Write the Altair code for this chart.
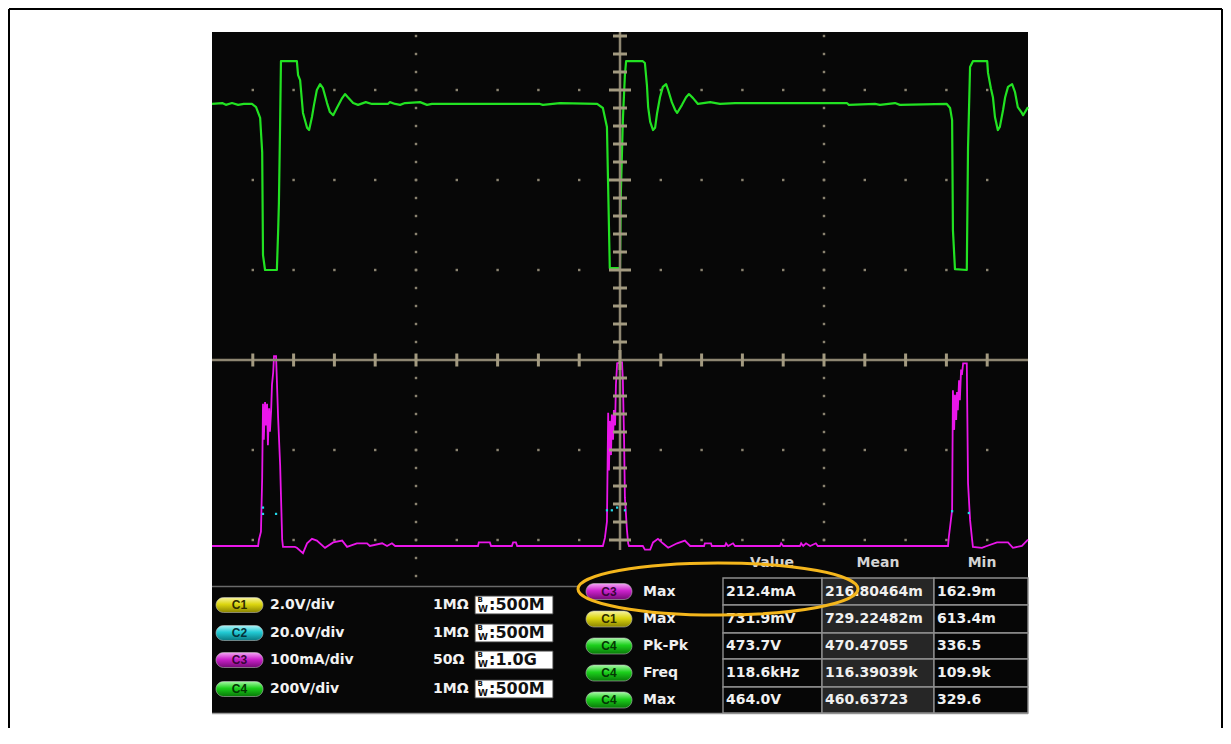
import altair as alt
import pandas as pd

# ---------------- data ----------------
# C4 (green, 200 V/div): (time in µs, volts)
c4_trace = [(-10.00, 369), (-9.75, 371), (-9.66, 367), (-9.51, 371), (-9.36, 367), (-9.22, 369),
            (-9.02, 369), (-8.92, 362), (-8.82, 338), (-8.77, 262), (-8.75, 33), (-8.70, 0),
            (-8.41, 0), (-8.38, 84), (-8.36, 149), (-8.33, 329), (-8.31, 464), (-7.92, 464),
            (-7.89, 433), (-7.84, 422), (-7.77, 349), (-7.67, 316), (-7.62, 311), (-7.55, 340),
            (-7.50, 367), (-7.43, 400), (-7.35, 413), (-7.28, 404), (-7.18, 371), (-7.11, 351),
            (-7.03, 344), (-6.94, 360), (-6.81, 382), (-6.74, 391), (-6.67, 384), (-6.54, 371),
            (-6.42, 367), (-6.23, 373), (-6.08, 369), (-5.69, 369), (-5.64, 373), (-5.51, 369),
            (-5.39, 367), (-5.27, 371), (-4.90, 373), (-4.73, 367), (-4.61, 369), (-1.96, 369),
            (-1.89, 367), (-1.47, 371), (-0.56, 369), (-0.42, 360), (-0.32, 318), (-0.29, 182),
            (-0.25, 4), (0.00, 4), (0.02, 167), (0.07, 333), (0.12, 433), (0.15, 464),
            (0.56, 464), (0.61, 460), (0.66, 411), (0.69, 362), (0.74, 329), (0.81, 311),
            (0.86, 316), (0.91, 349), (0.98, 384), (1.05, 407), (1.13, 413), (1.18, 400),
            (1.27, 373), (1.35, 356), (1.40, 349), (1.52, 367), (1.62, 384), (1.69, 391),
            (1.79, 382), (1.91, 369), (2.21, 373), (2.45, 369), (2.82, 371), (5.56, 371),
            (5.61, 367), (6.25, 369), (6.37, 367), (6.74, 371), (6.86, 367), (8.01, 369),
            (8.09, 360), (8.14, 333), (8.16, 89), (8.21, 2), (8.50, 0), (8.53, 271),
            (8.58, 451), (8.65, 464), (9.00, 464), (9.02, 438), (9.09, 404), (9.14, 384),
            (9.19, 340), (9.26, 311), (9.31, 318), (9.39, 356), (9.44, 384), (9.51, 407),
            (9.61, 413), (9.68, 396), (9.75, 362), (9.85, 349), (9.88, 344), (10.00, 362)]

# C3 (magenta, 100 mA/div): (time in µs, mA)
c3_trace = [(-10.00, 0), (-8.87, 0), (-8.85, 7), (-8.80, 16), (-8.77, 76), (-8.75, 158),
            (-8.73, 118), (-8.70, 160), (-8.68, 134), (-8.65, 158), (-8.63, 112), (-8.60, 153),
            (-8.58, 127), (-8.55, 151), (-8.53, 179), (-8.50, 193), (-8.48, 211), (-8.43, 211),
            (-8.41, 184), (-8.38, 143), (-8.33, 90), (-8.31, 57), (-8.28, 7), (-8.26, -1),
            (-7.97, -1), (-7.92, -2), (-7.77, -8), (-7.67, 3), (-7.55, 8), (-7.43, 6),
            (-7.23, -2), (-7.03, 4), (-6.81, 6), (-6.69, -1), (-6.45, 3), (-6.20, 3),
            (-6.13, 0), (-5.83, 3), (-5.71, 0), (-5.59, 3), (-5.51, 0), (-3.48, 0),
            (-3.46, 4), (-3.19, 4), (-3.16, 0), (-2.65, 0), (-2.62, 4), (-2.55, 4),
            (-2.52, 0), (-0.42, 0), (-0.37, 9), (-0.32, 27), (-0.29, 148), (-0.27, 84),
            (-0.25, 139), (-0.22, 101), (-0.20, 146), (-0.17, 118), (-0.15, 151), (-0.12, 134),
            (-0.10, 179), (-0.07, 203), (0.05, 204), (0.07, 184), (0.10, 118), (0.12, 54),
            (0.17, 18), (0.20, 3), (0.22, 0), (0.56, 0), (0.61, -4), (0.74, -4),
            (0.81, 4), (0.93, 8), (1.05, 3), (1.18, -2), (1.40, 3), (1.59, 6),
            (1.72, 0), (2.06, 0), (2.08, 3), (2.23, 3), (2.25, 0), (2.57, 0),
            (2.60, 3), (2.65, 0), (2.77, 3), (2.82, 0), (3.92, 0), (3.95, 3),
            (4.00, 0), (4.41, 0), (4.44, 3), (4.49, 0), (4.56, 3), (4.66, 0),
            (4.80, 3), (4.85, 0), (8.04, 0), (8.06, 10), (8.14, 40), (8.16, 173),
            (8.19, 129), (8.21, 168), (8.24, 140), (8.26, 171), (8.28, 151), (8.31, 184),
            (8.33, 162), (8.36, 196), (8.38, 190), (8.41, 203), (8.50, 203), (8.53, 70),
            (8.58, 29), (8.63, 7), (8.65, -1), (8.87, -2), (8.99, 0), (9.24, 4),
            (9.51, 4), (9.63, -2), (9.85, 0), (10.00, 7)]

# C2 (cyan) fragments: (time in µs, divisions)
c2_points = [(-8.75, -1.64), (-8.75, -1.71), (-8.43, -1.71), (-0.32, -1.67), (-0.20, -1.67),
             (-0.07, -1.64), (0.12, -1.67), (8.14, -1.68), (8.55, -1.70)]

channel_labels = ["C1", "C2", "C3", "C4"]
channel_scale = ["2.0V/div", "20.0V/div", "100mA/div", "200V/div"]
channel_imp = ["1MΩ", "1MΩ", "50Ω", "1MΩ"]
channel_bw = [":500M", ":500M", ":1.0G", ":500M"]

headers = ["Value", "Mean", "Min"]
meas_ch = ["C3", "C1", "C4", "C4", "C4"]
meas_name = ["Max", "Max", "Pk-Pk", "Freq", "Max"]
meas_value = ["212.4mA", "731.9mV", "473.7V", "118.6kHz", "464.0V"]
meas_mean = ["216.80464m", "729.22482m", "470.47055", "116.39039k", "460.63723"]
meas_min = ["162.9m", "613.4m", "336.5", "109.9k", "329.6"]

# ---------------- layout (screen pixels -> scope units) ----------------
CX, CY = 620.0, 360.0      # crosshair position
PX_US, PX_DIV = 40.8, 90.0  # 1 µs per minor tick, 90 px per vertical division


def tx(px):
    return (px - CX) / PX_US


def dy(py):
    return (CY - py) / PX_DIV


C4_ZERO, C4_PER_DIV = dy(270), 200.0
C3_ZERO, C3_PER_DIV = dy(546), 100.0

xs = alt.Scale(domain=[-10, 10], nice=False, zero=False)
ys = alt.Scale(domain=[dy(714), dy(32)], nice=False, zero=False)
X = lambda f="x": alt.X(f, type="quantitative", scale=xs, axis=None)
Y = lambda f="y": alt.Y(f, type="quantitative", scale=ys, axis=None)
FONT = "DejaVu Sans"

# traces
g = pd.DataFrame(c4_trace, columns=["t", "v"])
g["x"] = g.t
g["y"] = g.v / C4_PER_DIV + C4_ZERO
g["o"] = range(len(g))
m = pd.DataFrame(c3_trace, columns=["t", "ma"])
m["x"] = m.t
m["y"] = m.ma / C3_PER_DIV + C3_ZERO
m["o"] = range(len(m))
cy = pd.DataFrame(c2_points, columns=["x", "y"])

green = alt.Chart(g).mark_line(color="#22e222", strokeWidth=2.2, strokeJoin="round").encode(
    x=X(), y=Y(), order="o:Q")
magenta = alt.Chart(m).mark_line(color="#ea16ea", strokeWidth=1.8).encode(x=X(), y=Y(), order="o:Q")
cyan = alt.Chart(cy).mark_square(size=5, color="#22d8ea", opacity=1).encode(x=X(), y=Y())

# graticule dots
dots = []
for d in [3, 2, 1, -1, -2]:
    for t in range(-9, 10):
        if t != 0:
            dots.append((t, d))
for t, kmin in [(-5, -12), (5, -10)]:
    for k in range(kmin, 19):
        dots.append((t, k * 0.2))
dots_df = pd.DataFrame(dots, columns=["x", "y"])
dot_layer = alt.Chart(dots_df).mark_square(size=6, color="#8a8370", opacity=1).encode(x=X(), y=Y())

# crosshair axes
axes_df = pd.DataFrame([
    {"x": -10, "x2": 10, "y": 0, "y2": 0},
    {"x": 0, "x2": 0, "y": dy(32), "y2": dy(550)},
])
axes_layer = alt.Chart(axes_df).mark_rule(color="#8e8672", strokeWidth=2.5).encode(
    x=X(), x2="x2:Q", y=Y(), y2="y2:Q")

ht = pd.DataFrame([{"x": t, "y": 0, "len": 20 if t == 0 else 13} for t in range(-9, 10)])
htick = alt.Chart(ht).mark_tick(orient="vertical", thickness=3, color="#a39a80", opacity=1).encode(
    x=X(), y=Y(), size=alt.Size("len:Q", scale=None))
vt = pd.DataFrame([{"x": 0, "y": k * 0.2, "len": 22 if k % 5 == 0 else 14}
                   for k in range(-10, 19) if k != 0])
vtick = alt.Chart(vt).mark_tick(orient="horizontal", thickness=3, color="#a39a80", opacity=1).encode(
    x=X(), y=Y(), size=alt.Size("len:Q", scale=None))

# panel separators
sep_df = pd.DataFrame([
    {"x": tx(212), "x2": tx(578), "y": dy(586.5), "y2": dy(586.5), "c": "#6a6a6a"},
    {"x": tx(212), "x2": tx(1028), "y": dy(713.5), "y2": dy(713.5), "c": "#9a9a9a"},
])
sep_layer = alt.Chart(sep_df).mark_rule(strokeWidth=1.5).encode(
    x=X(), x2="x2:Q", y=Y(), y2="y2:Q", color=alt.Color("c:N", scale=None))

# pills
pill_style = {
    "C1": ("#f8f4a0", "#dcd610", "#8a8400", "#2e2c00"),
    "C2": ("#aef4f8", "#22cad4", "#0a7880", "#04323a"),
    "C3": ("#f4a6f4", "#cc22cc", "#760a76", "#380438"),
    "C4": ("#a6faa6", "#1cd01c", "#087808", "#043604"),
}
left_rows = [605, 633, 660, 689]
tab_edges = [578, 605, 633, 659, 687, 713]
tab_rows = [(a + b) / 2 for a, b in zip(tab_edges[:-1], tab_edges[1:])]

pills = []
for ch, r in zip(channel_labels, left_rows):
    pills.append({"ch": ch, "x": tx(216), "x2": tx(263), "y": dy(r - 7.5), "y2": dy(r + 7.5),
                  "cx": tx(239.5), "cy": dy(r)})
for ch, r in zip(meas_ch, tab_rows):
    pills.append({"ch": ch, "x": tx(586), "x2": tx(632), "y": dy(r - 8), "y2": dy(r + 8),
                  "cx": tx(609), "cy": dy(r)})
pills_df = pd.DataFrame(pills)
pills_df["tc"] = pills_df.ch.map(lambda c: pill_style[c][3])

pill_layers = []
for ch, (hi, mid, lo, _) in pill_style.items():
    grad = {"gradient": "linear", "x1": 0, "y1": 0, "x2": 0, "y2": 1,
            "stops": [{"offset": 0, "color": hi}, {"offset": 0.45, "color": mid},
                      {"offset": 1, "color": lo}]}
    pill_layers.append(
        alt.Chart(pills_df[pills_df.ch == ch]).mark_rect(
            cornerRadius=8, fill=grad, stroke="#c0c0c0", strokeWidth=0.8, strokeOpacity=0.7
        ).encode(x=X(), x2="x2:Q", y=Y(), y2="y2:Q"))
pill_text = alt.Chart(pills_df).mark_text(
    font="Liberation Sans", fontWeight="bold", fontSize=12, baseline="middle", align="center"
).encode(x=X("cx"), y=Y("cy"), text="ch:N", color=alt.Color("tc:N", scale=None))

# left panel texts
lp = pd.DataFrame({"scale": channel_scale, "imp": channel_imp, "bw": channel_bw,
                   "y": [dy(r) for r in left_rows],
                   "yb": [dy(r - 5) for r in left_rows],
                   "yw": [dy(r + 4) for r in left_rows],
                   "y1": [dy(r - 9) for r in left_rows],
                   "y2": [dy(r + 9) for r in left_rows]})
lp["xs"], lp["xi"], lp["xb"], lp["xw"], lp["xt"] = tx(270), tx(433), tx(477.5), tx(478), tx(489)
lp["bx1"], lp["bx2"] = tx(475), tx(553)
lp["B"], lp["W"] = "B", "W"

txt = dict(font=FONT, fontWeight="bold", baseline="middle", align="left")
scale_text = alt.Chart(lp).mark_text(fontSize=14, color="#f2f2f2", **txt).encode(
    x=X("xs"), y=Y(), text="scale:N")
imp_text = alt.Chart(lp).mark_text(fontSize=14, color="#f2f2f2", **txt).encode(
    x=X("xi"), y=Y(), text="imp:N")
bw_box = alt.Chart(lp).mark_rect(fill="white", stroke="#3a3a3a", strokeWidth=1).encode(
    x=X("bx1"), x2="bx2:Q", y=Y("y1"), y2="y2:Q")
bw_b = alt.Chart(lp).mark_text(fontSize=7, color="#111111", **txt).encode(
    x=X("xb"), y=Y("yb"), text="B:N")
bw_w = alt.Chart(lp).mark_text(fontSize=9, color="#111111", **txt).encode(
    x=X("xw"), y=Y("yw"), text="W:N")
bw_t = alt.Chart(lp).mark_text(fontSize=16, color="#111111", **txt).encode(
    x=X("xt"), y=Y(), text="bw:N")

# measurement table
col_edges = [723, 822, 934, 1028]
cells = []
for i in range(5):
    for j in range(3):
        cells.append({"x": tx(col_edges[j]), "x2": tx(col_edges[j + 1]),
                      "y": dy(tab_edges[i]), "y2": dy(tab_edges[i + 1]),
                      "f": "#262626" if j == 1 else "#060606"})
cells_df = pd.DataFrame(cells)
cell_layer = alt.Chart(cells_df).mark_rect(stroke="#8e8e8e", strokeWidth=1.4).encode(
    x=X(), x2="x2:Q", y=Y(), y2="y2:Q", fill=alt.Fill("f:N", scale=None))

hdr_df = pd.DataFrame({"h": headers, "x": [tx(772), tx(878), tx(982)], "y": dy(563)})
hdr_layer = alt.Chart(hdr_df).mark_text(
    font=FONT, fontWeight="bold", fontSize=14, color="#d4d4d4", baseline="middle", align="center"
).encode(x=X(), y=Y(), text="h:N")

vals = []
for i in range(5):
    vals.append({"s": meas_name[i], "x": tx(643), "y": dy(tab_rows[i])})
    for j, col in enumerate([meas_value, meas_mean, meas_min]):
        vals.append({"s": col[i], "x": tx(col_edges[j] + 3), "y": dy(tab_rows[i])})
vals_df = pd.DataFrame(vals)
vals_layer = alt.Chart(vals_df).mark_text(fontSize=14, color="#f0f0f0", **txt).encode(
    x=X(), y=Y(), text="s:N")

# highlight ellipse
ell_df = pd.DataFrame({"x": [tx(718)], "y": [dy(589)]})
ellipse = alt.Chart(ell_df).mark_point(
    shape="M -1 0 A 1 0.186 0 1 1 1 0 A 1 0.186 0 1 1 -1 0",
    size=78400, filled=False, strokeWidth=3, color="#f4b61c", opacity=1
).encode(x=X(), y=Y())

# outer frame (white page border)
frame_l = alt.Chart(ell_df).mark_rule(color="black", strokeWidth=2).encode(
    x=alt.value(-203), y=alt.value(-23), y2=alt.value(700))
frame_r = alt.Chart(ell_df).mark_rule(color="black", strokeWidth=2).encode(
    x=alt.value(1010), y=alt.value(-23), y2=alt.value(700))
frame_t = alt.Chart(ell_df).mark_rule(color="black", strokeWidth=2).encode(
    x=alt.value(-203), x2=alt.value(1010), y=alt.value(-23))

chart = alt.layer(
    dot_layer, green, magenta, cyan, axes_layer, htick, vtick, sep_layer,
    *pill_layers, pill_text, scale_text, imp_text, bw_box, bw_b, bw_w, bw_t,
    cell_layer, hdr_layer, vals_layer, ellipse, frame_l, frame_r, frame_t
).properties(
    width=816, height=682,
    autosize=alt.AutoSizeParams(type="none"),
    padding={"left": 204, "top": 24, "right": 195, "bottom": 14},
    background="white",
).configure_view(fill="#070707", stroke=None)

chart.save("out.html", embed_options={"renderer": "svg", "actions": False})
